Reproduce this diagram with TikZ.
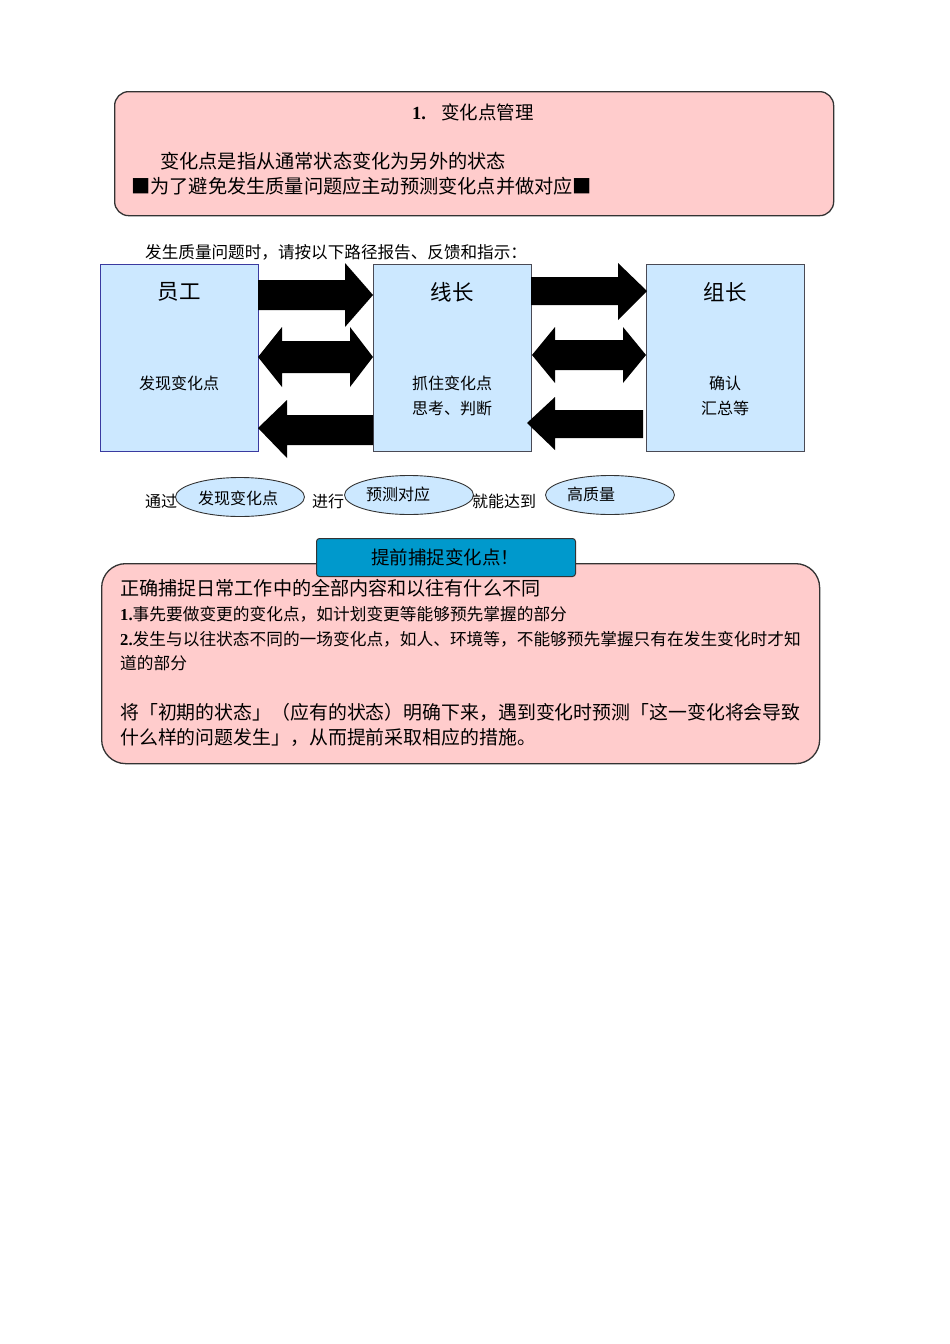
\documentclass[tikz,border=0pt]{standalone}
\usepackage{fontspec}
\setmainfont{Noto Sans CJK SC}
\newfontfamily\tms{Liberation Serif}
\usetikzlibrary{shapes.geometric}
\definecolor{pinkbg}{HTML}{FFCCCC}
\definecolor{lblue}{HTML}{CCE8FF}
\definecolor{hblue}{HTML}{0099CC}
\definecolor{edgec}{HTML}{333333}
\definecolor{boxedge}{HTML}{4A4A55}
\definecolor{blueedge}{HTML}{3A3AA0}
\newcommand{\fs}[1]{\fontsize{#1}{#1}\selectfont}
\newcommand{\blk}{\makebox[19.2pt]{■}}
\begin{document}
\begin{tikzpicture}[x=1pt,y=-1pt,
  txt/.style={inner sep=0pt, anchor=west},
  ctxt/.style={inner sep=0pt, anchor=center},
  panel/.style={draw=edgec, line width=1.3pt, fill=pinkbg, anchor=north west, inner sep=0pt},
  rolebox/.style={draw=boxedge, line width=0.8pt, fill=lblue, anchor=north west, inner sep=0pt, minimum width=158pt, minimum height=187pt},
  oval/.style={ellipse, draw=edgec, line width=0.9pt, fill=lblue, inner sep=0pt, minimum width=129pt, minimum height=39pt},
  blockarrow/.style={fill=black, draw=none}
]
\useasboundingbox[fill=white] (0,0) rectangle (950,1344);

% ---- top panel ----
\node[panel, rounded corners=14pt, minimum width=719pt, minimum height=124pt] (top) at (114,91) {};
\node[txt] (toptitle) at (412,112) {\fs{18.5}{\tms\bfseries 1.}\hspace{15pt}变化点管理};
\node[txt] (topl1) at (160,161) {\fs{19.2}变化点是指从通常状态变化为另外的状态};
\node[txt] (topl2) at (131,186) {\fs{19.2}\blk 为了避免发生质量问题应主动预测变化点并做对应\blk};

% ---- route caption ----
\node[txt] (route) at (145,252) {\fs{16.6}发生质量问题时，请按以下路径报告、反馈和指示：};

% ---- role boxes ----
\node[rolebox, draw=blueedge] (yg) at (100,264) {};
\node[rolebox] (xz) at (373,264) {};
\node[rolebox] (zz) at (646,264) {};
\node[ctxt] (ygt) at (179,292) {\fs{21.5}员工};
\node[ctxt] (xzt) at (452,292) {\fs{21.5}线长};
\node[ctxt] (zzt) at (725,292) {\fs{21.5}组长};
\node[ctxt] (ygs) at (179,383) {\fs{16}发现变化点};
\node[ctxt] (xzs1) at (452,383) {\fs{16}抓住变化点};
\node[ctxt] (xzs2) at (452,408) {\fs{16}思考、判断};
\node[ctxt] (zzs1) at (725,383) {\fs{16}确认};
\node[ctxt] (zzs2) at (725,408) {\fs{16}汇总等};

% ---- block arrows between 员工 and 线长 ----
\fill[blockarrow] (258,280) -- (345,280) -- (345,263) -- (373,295) -- (345,327) -- (345,310) -- (258,310) -- cycle;
\fill[blockarrow] (258,357) -- (282,327) -- (282,341) -- (350,341) -- (350,327) -- (373,357) -- (350,387) -- (350,373) -- (282,373) -- (282,387) -- cycle;
\fill[blockarrow] (258,428) -- (287,400) -- (287,415) -- (373,415) -- (373,445) -- (287,445) -- (287,458) -- cycle;

% ---- block arrows between 线长 and 组长 ----
\fill[blockarrow] (531,277) -- (618,277) -- (618,263) -- (647,291) -- (618,320) -- (618,305) -- (531,305) -- cycle;
\fill[blockarrow] (532,355) -- (555,327) -- (555,340) -- (623,340) -- (623,327) -- (646,355) -- (623,383) -- (623,370) -- (555,370) -- (555,383) -- cycle;
\fill[blockarrow] (527,423) -- (555,397) -- (555,410) -- (643,410) -- (643,438) -- (555,438) -- (555,450) -- cycle;

% ---- ellipse row ----
\node[txt] (tg) at (145,501) {\fs{16}通过};
\node[oval] (e1) at (240,497) {};
\node[ctxt] (e1t) at (238,498) {\fs{16}发现变化点};
\node[txt] (jx) at (312,501) {\fs{16}进行};
\node[oval] (e2) at (409,495) {};
\node[ctxt] (e2t) at (398,494) {\fs{16}预测对应};
\node[txt] (jn) at (472,501) {\fs{16}就能达到};
\node[oval] (e3) at (610,495) {};
\node[ctxt] (e3t) at (591,494) {\fs{16}高质量};

% ---- bottom panel ----
\node[panel, rounded corners=24pt, minimum width=718pt, minimum height=200pt] (bot) at (101,563) {};
\node[draw=edgec, line width=1pt, fill=hblue, rounded corners=3pt, anchor=north west, inner sep=0pt, minimum width=259pt, minimum height=38pt] (hdr) at (316,538) {};
\node[ctxt] (hdrt) at (445,557) {\fs{18.5}提前捕捉变化点！};
\node[txt] (b1) at (120,588) {\fs{19.1}正确捕捉日常工作中的全部内容和以往有什么不同};
\node[txt] (b2) at (120,614) {\fs{16.7}{\tms\bfseries 1.}事先要做变更的变化点，如计划变更等能够预先掌握的部分};
\node[txt] (b3) at (120,639) {\fs{16.7}{\tms\bfseries 2.}发生与以往状态不同的一场变化点，如人、环境等，不能够预先掌握只有在发生变化时才知};
\node[txt] (b4) at (120,663) {\fs{16.7}道的部分};
\node[txt] (b5) at (120,712) {\fs{18.9}将「初期的状态」（应有的状态）明确下来，遇到变化时预测「这一变化将会导致};
\node[txt] (b6) at (120,737) {\fs{18.9}什么样的问题发生」，从而提前采取相应的措施。};
\end{tikzpicture}
\end{document}
